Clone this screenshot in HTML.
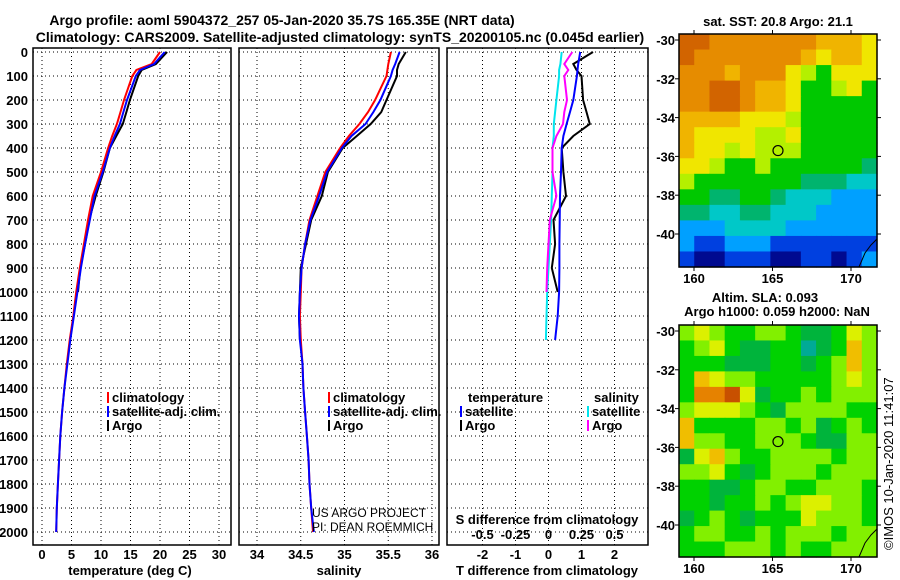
<!DOCTYPE html>
<html><head><meta charset="utf-8"><style>
html,body{margin:0;padding:0;background:#fff;}
svg{display:block;font-family:"Liberation Sans",sans-serif;}
.b{font-weight:bold;font-size:13px;}
.n{font-weight:normal;font-size:12px;}
.t{font-weight:bold;font-size:14px;}
</style></head><body>
<svg id="c" width="900" height="580" viewBox="0 0 900 580">
<text class="t" x="282" y="25" text-anchor="middle">Argo profile: aoml 5904372_257 05-Jan-2020 35.7S 165.35E (NRT data)</text>
<text class="t" x="340" y="42" text-anchor="middle">Climatology: CARS2009. Satellite-adjusted climatology: synTS_20200105.nc (0.045d earlier)</text>
<text class="b" x="778" y="26" text-anchor="middle">sat. SST: 20.8 Argo: 21.1</text>
<text class="b" x="765" y="302" text-anchor="middle">Altim. SLA: 0.093</text>
<text class="b" x="777" y="316" text-anchor="middle">Argo h1000: 0.059 h2000: NaN</text>
<text x="893" y="550" font-size="13" transform="rotate(-90 893 550)">©IMOS 10-Jan-2020 11:41:07</text>
</svg>
<script>
// ---- profile data ----
const depths = [0,50,75,100,200,250,300,350,400,500,600,700,800,900,1000,1100,1200,1300,1400,1500,1600,1700,1800,1900,2000];
const tempClim = [20.0,18.6,16.0,15.3,13.9,13.3,12.7,11.9,11.2,10.0,8.6,7.8,7.1,6.4,5.8,5.3,4.7,4.2,3.8,3.4,3.1,2.9,2.7,2.5,2.4];
const tempSat  = [20.8,19.0,16.6,15.9,14.4,13.8,13.2,12.3,11.5,10.3,8.9,8.1,7.3,6.6,6.0,5.4,4.8,4.3,3.8,3.4,3.1,2.9,2.7,2.5,2.4];
const tempArgo = [21.2,19.3,16.9,16.3,14.9,14.3,13.7,12.6,11.5,10.4,9.1,8.0,7.3,6.5,6.1];
const salClim = [35.53,35.50,35.49,35.48,35.35,35.27,35.17,35.05,34.95,34.78,34.69,34.60,34.55,34.51,34.50,34.49,34.50,34.52,34.53,34.55,34.57,34.59,34.60,34.62,34.64];
const salSat  = [35.63,35.58,35.55,35.53,35.41,35.33,35.24,35.08,34.97,34.80,34.71,34.61,34.55,34.51,34.49,34.48,34.49,34.52,34.53,34.55,34.57,34.59,34.60,34.62,34.65];
const salArgo = [35.70,35.62,35.60,35.60,35.48,35.42,35.30,35.14,34.98,34.81,34.74,34.62,34.56,34.50,34.49,34.48,34.49];
const tDiffSat  = [0.96,0.90,0.88,0.86,0.75,0.65,0.55,0.45,0.40,0.38,0.35,0.34,0.33,0.33,0.32,0.28,0.20];
const tDiffArgo = [1.35,0.75,0.85,1.00,1.05,1.15,1.25,0.75,0.40,0.45,0.53,0.15,0.20,0.10,0.28];
const sDiffSat  = [0.10,0.09,0.08,0.08,0.06,0.05,0.04,0.04,0.03,0.03,0.025,0.02,0.01,0.0,-0.01,-0.015,-0.02];
const sDiffArgo = [0.18,0.12,0.15,0.12,0.14,0.12,0.11,0.06,0.03,0.03,0.06,0.01,0.0,-0.01,-0.015];
const depthTicks = [0,100,200,300,400,500,600,700,800,900,1000,1100,1200,1300,1400,1500,1600,1700,1800,1900,2000];
const tempTicks = [0,5,10,15,20,25,30];
const salTicks = [34,34.5,35,35.5,36];
const salTickLabels = ["34","34.5","35","35.5","36"];
const tdTicks = [-2,-1,0,1,2];
const sdTickLabels = ["-0.5","-0.25","0","0.25","0.5"];
// ---- map data ----
const sstPalette = ["#000a90","#0040e0","#00a0ff","#00c8c8","#00b46e","#00c800","#b4f000","#f0e600","#f0b400","#e68c00","#d26400"];
const sstGrid = [
[10,10,9,9,9,9,9,9,9,8,8,8,7],
[10,9,9,9,9,9,9,9,8,7,8,8,7],
[9,9,9,8,9,9,9,7,6,5,7,7,7],
[9,9,10,10,9,8,8,7,5,5,6,7,5],
[9,9,10,10,9,8,8,7,5,5,5,5,5],
[8,8,8,8,7,7,7,6,5,5,5,5,5],
[8,7,7,7,7,6,6,7,5,5,5,5,5],
[8,7,7,6,7,6,6,6,5,5,5,5,5],
[7,7,6,5,5,6,5,5,5,5,5,5,4],
[6,5,5,5,5,5,5,5,4,4,4,3,3],
[5,5,4,4,5,5,4,3,3,3,2,2,2],
[4,4,3,3,4,4,3,3,3,2,2,2,2],
[2,2,2,3,3,3,3,2,2,2,2,2,2],
[2,1,1,2,2,2,1,1,1,1,1,1,1],
[1,0,0,1,1,1,0,0,1,1,0,1,2]];
const slaPalette = ["#00aa96","#00b43c","#00d200","#82f000","#dcf000","#f0be00","#e68200","#c85000"];
const slaGrid = [
[3,4,3,2,2,3,3,2,1,1,2,4,3],
[2,3,4,2,1,1,2,2,0,1,2,5,3],
[2,2,2,1,1,1,2,2,1,2,3,5,3],
[2,5,4,3,3,2,2,2,2,2,3,4,3],
[2,6,6,7,4,1,2,2,3,2,3,3,3],
[3,4,4,4,3,2,1,3,3,3,3,2,2],
[5,2,2,2,2,3,3,2,3,1,2,3,2],
[5,3,3,2,2,3,3,3,2,1,1,3,3],
[1,4,5,3,2,2,3,3,3,3,2,3,3],
[3,3,4,2,1,2,3,3,3,2,3,3,3],
[2,2,1,1,2,3,3,2,2,3,3,3,2],
[2,2,1,2,2,3,2,3,4,4,3,3,2],
[1,2,3,2,1,2,2,2,4,3,3,3,2],
[2,3,3,2,2,3,2,3,3,3,2,3,3],
[2,2,2,3,3,3,2,3,2,2,3,3,3]];
const lonTicks = [160,165,170];
const latTicks = [-30,-32,-34,-36,-38,-40];
const argoLon = 165.35, argoLat = -35.7;

const NS="http://www.w3.org/2000/svg";
const svg=document.getElementById('c');
function mk(tag,attrs,parent){const e=document.createElementNS(NS,tag);for(const k in attrs)e.setAttribute(k,attrs[k]);(parent||svg).appendChild(e);return e;}
function txt(x,y,s,cls,anchor,parent){const e=mk('text',{x:x,y:y,'class':cls||'b','text-anchor':anchor||'start'},parent);e.textContent=s;return e;}

const yD=d=>52+d*0.24;
const PT=48, PB=545;
const xT=v=>42+v*5.9;
const xS=v=>257+(v-34)*87.5;
const xTD=v=>548.5+v*33;
const xSD=v=>548.5+v*132;

function panel(name,x0,x1,xs,ticks){
  const g=mk('g',{});
  
  
  depthTicks.forEach(d=>{const l=mk('line',{x1:x0,x2:x1,y1:yD(d),y2:yD(d),stroke:'#000','stroke-width':1,'stroke-dasharray':'1,3'},g);
    });
  ticks.forEach(v=>{const l=mk('line',{x1:xs(v),x2:xs(v),y1:PT,y2:PB,stroke:'#000','stroke-width':1,'stroke-dasharray':'1,3'},g);
    });
  const r=mk('rect',{x:x0,y:PT,width:x1-x0,height:PB-PT,fill:'none',stroke:'#000','stroke-width':1.5},g);
  
  return g;
}
function line(g,name,vals,xs,color){
  const pts=vals.map((v,i)=>xs(v).toFixed(1)+','+yD(depths[i]).toFixed(1)).join(' ');
  const p=mk('polyline',{points:pts,fill:'none',stroke:color,'stroke-width':2},g);
  
  
}
const g1=panel('temperature-panel',33,231,xT,tempTicks);
line(g1,'temp-argo-line',tempArgo,xT,'#000');
line(g1,'temp-climatology-line',tempClim,xT,'#f00');
line(g1,'temp-satellite-line',tempSat,xT,'#0000ff');
const g2=panel('salinity-panel',239,439,xS,salTicks);
line(g2,'sal-argo-line',salArgo,xS,'#000');
line(g2,'sal-climatology-line',salClim,xS,'#f00');
line(g2,'sal-satellite-line',salSat,xS,'#0000ff');
const g3=panel('difference-panel',447,648,xTD,tdTicks);
line(g3,'tdiff-argo-line',tDiffArgo,xTD,'#000');
line(g3,'tdiff-satellite-line',tDiffSat,xTD,'#0000ff');
line(g3,'sdiff-satellite-line',sDiffSat,xSD,'#00e5ee');
line(g3,'sdiff-argo-line',sDiffArgo,xSD,'#ff00ff');

depthTicks.forEach(d=>{const t=txt(28,yD(d)+5,String(d),'b','end');});
tempTicks.forEach(v=>{const t=txt(xT(v),559,String(v),'b','middle');});
salTicks.forEach((v,i)=>{const t=txt(xS(v),559,salTickLabels[i],'b','middle');});
tdTicks.forEach(v=>{const t=txt(xTD(v),559,String(v),'b','middle');});
sdTickLabels.forEach((s,i)=>{const t=txt(xSD(-0.5+i*0.25),539,s,'b','middle');});
[[130,'temperature (deg C)','temp-axis-title'],[339,'salinity','sal-axis-title'],[547,'T difference from climatology','tdiff-axis-title']].forEach(a=>{const t=txt(a[0],575,a[1],'b','middle');});
{const t=txt(547,524,'S difference from climatology','b','middle');}
{const t=txt(312,517,'US ARGO PROJECT','n','start');
 const u=txt(312,531,'PI: DEAN ROEMMICH','n','start');}

function legend(x,y,color,label){
  const g=mk('g',{});
  
  
  mk('rect',{x:x,y:y-10,width:2,height:11,fill:color},g);
  txt(x+5,y,label,'b','start',g);
}
legend(107,402,'#f00','climatology');legend(107,416,'#0000ff','satellite-adj. clim.');legend(107,430,'#000','Argo');
legend(328,402,'#f00','climatology');legend(328,416,'#0000ff','satellite-adj. clim.');legend(328,430,'#000','Argo');
{const t=txt(468,402,'temperature');
 const u=txt(594,402,'salinity');}
legend(460,416,'#0000ff','satellite');legend(460,430,'#000','Argo');
legend(587,416,'#00e5ee','satellite');legend(587,430,'#ff00ff','Argo');

function map(name,grid,pal,L,R,T,B,lat30,lat40,lon160,lon170){
  const g=mk('g',{});
  
  
  const rows=grid.length, cols=grid[0].length;
  const cw=(R-L)/cols, ch=(B-T)/rows;
  grid.forEach((row,r)=>row.forEach((v,c)=>{
    const e=mk('rect',{x:(L+c*cw).toFixed(2),y:(T+r*ch).toFixed(2),width:(cw+0.6).toFixed(2),height:(ch+0.6).toFixed(2),fill:pal[v]},g);
    
    
  }));
  mk('rect',{x:L,y:T,width:R-L,height:B-T,fill:'none',stroke:'#000','stroke-width':1.5},g);
  const yL=la=>lat30+(la+30)/(-10)*(lat40-lat30);
  const xL=lo=>lon160+(lo-160)/10*(lon170-lon160);
  latTicks.forEach(la=>{mk('line',{x1:R,x2:R+4,y1:yL(la),y2:yL(la),stroke:'#000'},g);
    mk('line',{x1:L-4,x2:L,y1:yL(la),y2:yL(la),stroke:'#000'},g);
    const t=txt(L-4,yL(la)+5,String(la),'b','end',g);});
  lonTicks.forEach(lo=>{mk('line',{x1:xL(lo),x2:xL(lo),y1:B,y2:B+4,stroke:'#000'},g);
    mk('line',{x1:xL(lo),x2:xL(lo),y1:T-4,y2:T,stroke:'#000'},g);
    const t=txt(xL(lo),B+16,String(lo),'b','middle',g);});
  mk('path',{d:`M${R-18} ${B} L${R-12} ${B-14} L${R-6} ${B-22} L${R} ${B-28}`,fill:'none',stroke:'#000','stroke-width':1},g);
  const c=mk('circle',{cx:xL(argoLon),cy:yL(argoLat),r:5,fill:'none',stroke:'#000','stroke-width':1.2},g);
  
  
}
map('sst-map',sstGrid,sstPalette,679,877,34,267,40,234,694,851);
map('sla-map',slaGrid,slaPalette,679,877,325,557,331,525,694,851);
</script>
</body></html>
